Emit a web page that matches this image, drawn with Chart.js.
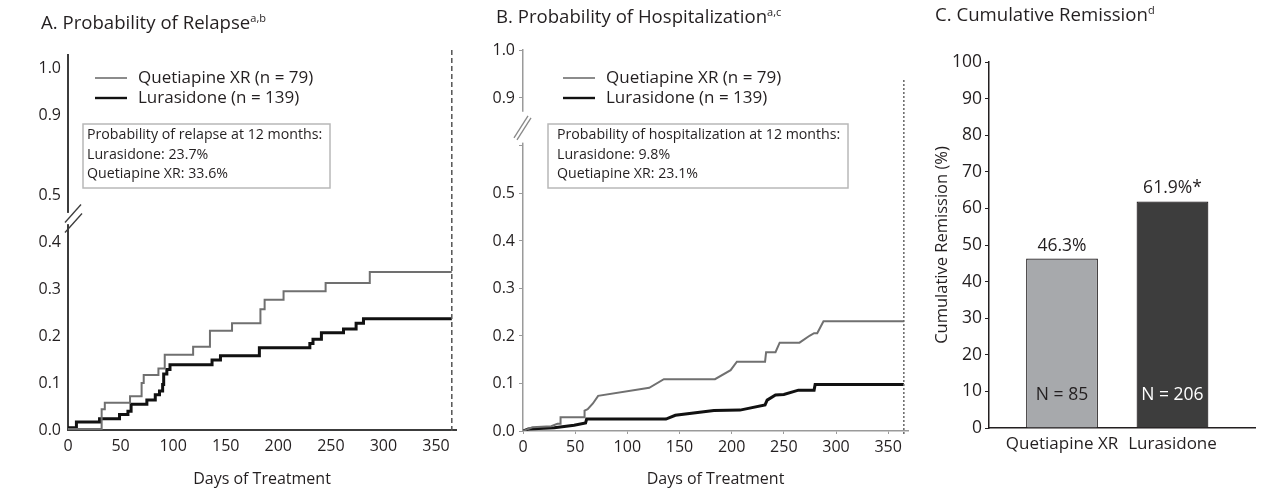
<!DOCTYPE html>
<html>
<head>
<meta charset="utf-8">
<title>Relapse, hospitalization and remission</title>
<script src="https://cdn.jsdelivr.net/npm/chart.js@4.4.1/dist/chart.umd.min.js"></script>
<style>
  body { margin: 0; background: #fff; width: 1275px; height: 496px; overflow: hidden; font-family: "Open Sans", sans-serif; color: #231f20; }
  .panel { position: absolute; top: 0; height: 496px; }
  .panel canvas { position: absolute; left: 0; top: 0; }
  .ttl { position: absolute; font-size: 18.6px; line-height: 1; white-space: nowrap; }
  .ttl sup { font-size: 11px; vertical-align: 7px; }
</style>
</head>
<body>
<div class="panel" style="left:0;width:470px">
  <canvas id="relapseChart" width="470" height="496"></canvas>
  <div class="ttl" style="left:41px;top:12px">A. Probability of Relapse<sup>a,b</sup></div>
</div>
<div class="panel" style="left:470px;width:440px">
  <canvas id="hospChart" width="440" height="496"></canvas>
  <div class="ttl" style="left:26px;top:6px">B. Probability of Hospitalization<sup>a,c</sup></div>
</div>
<div class="panel" style="left:910px;width:365px">
  <canvas id="remissionChart" width="365" height="496"></canvas>
  <div class="ttl" style="left:25px;top:4px">C. Cumulative Remission<sup>d</sup></div>
</div>

<script>
// A. probability of relapse (Kaplan-Meier steps): day of event, cumulative probability after it
const relapseQuetDays = [0, 32, 35, 59, 70, 72, 86, 92, 119, 135, 156, 183, 187, 205, 245, 287, 365];
const relapseQuetProb = [0.002, 0.044, 0.058, 0.072, 0.100, 0.117, 0.131, 0.160, 0.177, 0.211, 0.227, 0.257, 0.277, 0.295, 0.313, 0.336, 0.336];
const relapseLuraDays = [0, 8, 30, 49, 57, 60, 75, 83, 87, 90, 91, 94, 97, 137, 145, 182, 230, 233, 241, 262, 274, 281, 365];
const relapseLuraProb = [0.005, 0.017, 0.024, 0.033, 0.040, 0.055, 0.064, 0.075, 0.083, 0.097, 0.119, 0.129, 0.139, 0.149, 0.158, 0.175, 0.184, 0.193, 0.207, 0.215, 0.227, 0.237, 0.237];

// B. probability of hospitalization
const hospQuetDays = [0, 9, 27, 33, 36, 36, 59, 59, 62, 67, 72, 121, 135, 184, 199, 205, 232, 233, 242, 246, 265, 275, 279, 282, 288, 365];
const hospQuetProb = [0, 0.008, 0.010, 0.015, 0.015, 0.029, 0.029, 0.043, 0.046, 0.058, 0.074, 0.091, 0.109, 0.109, 0.128, 0.146, 0.146, 0.166, 0.166, 0.186, 0.186, 0.201, 0.206, 0.206, 0.231, 0.231];
const hospLuraDays = [0, 5, 30, 49, 60, 61, 137, 146, 183, 208, 232, 234, 242, 250, 264, 279, 280, 365];
const hospLuraProb = [0, 0.004, 0.007, 0.012, 0.017, 0.025, 0.025, 0.033, 0.043, 0.044, 0.055, 0.065, 0.076, 0.077, 0.086, 0.086, 0.098, 0.098];

const seriesNames = ['Quetiapine XR (n = 79)', 'Lurasidone (n = 139)'];
const dayTicks = [0, 50, 100, 150, 200, 250, 300, 350];
const relapseTicks = [0, 0.1, 0.2, 0.3, 0.4, 0.5, 0.9, 1.0];
const relapseTickLabels = ['0.0', '0.1', '0.2', '0.3', '0.4', '0.5', '0.9', '1.0'];
const hospTicks = [0, 0.1, 0.2, 0.3, 0.4, 0.5, 0.6, 0.9, 1.0];
const hospTickLabels = ['0.0', '0.1', '0.2', '0.3', '0.4', '0.5', '', '0.9', '1.0'];
const relapseBoxText = ['Probability of relapse at 12 months:', 'Lurasidone: 23.7%', 'Quetiapine XR: 33.6%'];
const hospBoxText = ['Probability of hospitalization at 12 months:', 'Lurasidone: 9.8%', 'Quetiapine XR: 23.1%'];

// C. cumulative remission
const remissionGroups = ['Quetiapine XR', 'Lurasidone'];
const remissionPct = [46.3, 61.9];
const remissionMarks = ['', '*'];
const remissionN = [85, 206];

const textColor = '#231f20';
const fontFamily = '"Open Sans", sans-serif';
const quetColor = '#707070';
const luraColor = '#111111';

Chart.defaults.font.family = fontFamily;
Chart.defaults.color = textColor;

// y axis with a break: values above the break are pulled down
function breakMap(lowEdge, highEdge, highStart) {
    return v => v <= lowEdge ? v : highStart + (v - highEdge);
}

function toPoints(days, probs, map) {
    return days.map((d, i) => ({ x: d, y: map(probs[i]) }));
}

const kmDecor = {
    id: 'kmDecor',
    afterDraw(chart, args, o) {
        const { ctx, scales: { x, y } } = chart;
        const axisX = x.left;
        const y0 = y.getPixelForValue(0);
        ctx.save();

        // end of 12 months
        const fx = x.getPixelForValue(o.followUp);
        ctx.strokeStyle = o.dashColor;
        ctx.lineWidth = 1.5;
        ctx.setLineDash(o.dash);
        ctx.beginPath();
        ctx.moveTo(fx, o.dashTop);
        ctx.lineTo(fx, y0 + 3);
        ctx.stroke();
        ctx.setLineDash([]);

        // break marks on the y axis
        const gTop = y.getPixelForValue(o.gap[1]);
        const gBot = y.getPixelForValue(o.gap[0]);
        ctx.fillStyle = '#fff';
        ctx.fillRect(axisX - 3, gTop, 6, gBot - gTop);
        ctx.strokeStyle = o.axisColor;
        ctx.lineWidth = 1.3;
        const cy = y.getPixelForValue(o.slashAt);
        o.slashes.forEach(s => {
            ctx.beginPath();
            ctx.moveTo(axisX + s[0], cy + s[1]);
            ctx.lineTo(axisX + s[2], cy + s[3]);
            ctx.stroke();
        });

        // legend
        ctx.font = '17px ' + fontFamily;
        ctx.textBaseline = 'middle';
        chart.data.datasets.forEach((ds, i) => {
            const ly = o.legendY + i * 20;
            ctx.strokeStyle = ds.borderColor;
            ctx.lineWidth = ds.borderWidth * 0.8;
            ctx.beginPath();
            ctx.moveTo(o.legendX, ly);
            ctx.lineTo(o.legendX + 32, ly);
            ctx.stroke();
            ctx.fillStyle = textColor;
            ctx.fillText(ds.label, o.legendX + 43, ly);
        });

        // 12 month box
        const [bx, by, bw, bh] = o.box;
        ctx.fillStyle = '#fff';
        ctx.fillRect(bx, by, bw, bh);
        ctx.strokeStyle = '#b8b8b8';
        ctx.lineWidth = 1.5;
        ctx.strokeRect(bx, by, bw, bh);
        ctx.fillStyle = textColor;
        ctx.font = '14.2px ' + fontFamily;
        o.boxText.forEach((t, i) => ctx.fillText(t, bx + o.textPad, by + 11 + i * 19.5));
        ctx.restore();
    }
};

// ---------- A ----------
const relapseMap = breakMap(0.5, 0.9, 0.670);
new Chart(document.getElementById('relapseChart'), {
    type: 'line',
    data: {
        datasets: [
            { label: seriesNames[0], data: toPoints(relapseQuetDays, relapseQuetProb, relapseMap), borderColor: quetColor, borderWidth: 2, stepped: true, pointRadius: 0 },
            { label: seriesNames[1], data: toPoints(relapseLuraDays, relapseLuraProb, relapseMap), borderColor: luraColor, borderWidth: 3, stepped: true, pointRadius: 0 }
        ]
    },
    options: {
        responsive: false,
        animation: false,
        layout: { padding: { left: 0, right: 14, top: 55, bottom: 0 } },
        plugins: {
            legend: { display: false },
            tooltip: { enabled: false },
            kmDecor: {
                followUp: 365, dashTop: 50, dash: [5, 3], dashColor: '#555',
                gap: [0.438, 0.462], slashAt: 0.45, axisColor: '#3c3c3c',
                slashes: [[-3, 4, 13, -14], [-3, 14, 14, -5]],
                legendX: 95, legendY: 78,
                box: [83, 124, 247, 64], textPad: 4, boxText: relapseBoxText
            }
        },
        scales: {
            x: {
                type: 'linear', min: 0, max: 369,
                afterBuildTicks: axis => { axis.ticks = dayTicks.map(v => ({ value: v })); },
                afterFit: axis => { axis.height = 66; },
                grid: { display: false, drawTicks: false },
                border: { color: '#3c3c3c', width: 2 },
                ticks: { padding: 7, font: { size: 16 }, color: textColor },
                title: { display: true, text: 'Days of Treatment', font: { size: 16 }, color: textColor, padding: { top: 0, bottom: 7 } }
            },
            y: {
                min: 0, max: 0.798,
                afterBuildTicks: axis => { axis.ticks = relapseTicks.map(v => ({ value: relapseMap(v) })); },
                afterFit: axis => { axis.width = 68; },
                grid: { display: false, drawTicks: false },
                border: { color: '#3c3c3c', width: 2 },
                ticks: { padding: 7, font: { size: 16 }, color: textColor, callback: (v, i) => relapseTickLabels[i] }
            }
        }
    },
    plugins: [kmDecor]
});

// ---------- B ----------
const hospMap = breakMap(0.6, 0.9, 0.701);
new Chart(document.getElementById('hospChart'), {
    type: 'line',
    data: {
        datasets: [
            { label: seriesNames[0], data: toPoints(hospQuetDays, hospQuetProb, hospMap), borderColor: quetColor, borderWidth: 2, pointRadius: 0 },
            { label: seriesNames[1], data: toPoints(hospLuraDays, hospLuraProb, hospMap), borderColor: luraColor, borderWidth: 3, pointRadius: 0 }
        ]
    },
    options: {
        responsive: false,
        animation: false,
        layout: { padding: { left: 0, right: 2, top: 50, bottom: 0 } },
        plugins: {
            legend: { display: false },
            tooltip: { enabled: false },
            kmDecor: {
                followUp: 365, dashTop: 80, dash: [2, 2], dashColor: '#666',
                gap: [0.607, 0.672], slashAt: 0.64, axisColor: '#888',
                slashes: [[-9, 11, 5, -11], [-6, 13, 8, -9]],
                legendX: 93, legendY: 78,
                box: [78, 124, 300, 64], textPad: 9, boxText: hospBoxText
            }
        },
        scales: {
            x: {
                type: 'linear', min: 0, max: 369,
                afterBuildTicks: axis => { axis.ticks = dayTicks.map(v => ({ value: v })); },
                afterFit: axis => { axis.height = 65; },
                grid: { display: true, drawOnChartArea: false, drawTicks: true, tickLength: 3, tickColor: '#9a9a9a' },
                border: { color: '#9a9a9a', width: 1.5 },
                ticks: { padding: 4, font: { size: 16 }, color: textColor },
                title: { display: true, text: 'Days of Treatment', font: { size: 16 }, color: textColor, padding: { top: 0, bottom: 7 } }
            },
            y: {
                min: 0, max: 0.802,
                afterBuildTicks: axis => { axis.ticks = hospTicks.map(v => ({ value: hospMap(v) })); },
                afterFit: axis => { axis.width = 53; },
                grid: { display: true, drawOnChartArea: false, drawTicks: true, tickLength: 4, tickColor: '#9a9a9a' },
                border: { color: '#9a9a9a', width: 1.5 },
                ticks: { padding: 4, font: { size: 16 }, color: textColor, callback: (v, i) => hospTickLabels[i] }
            }
        }
    },
    plugins: [kmDecor]
});

// ---------- C ----------
const barLabels = {
    id: 'barLabels',
    afterDatasetsDraw(chart) {
        const { ctx, scales: { y } } = chart;
        const bars = chart.getDatasetMeta(0).data;
        ctx.save();
        ctx.font = '17.5px ' + fontFamily;
        ctx.textAlign = 'center';
        ctx.textBaseline = 'middle';
        bars.forEach((bar, i) => {
            ctx.fillStyle = textColor;
            ctx.fillText(remissionPct[i].toFixed(1) + '%' + remissionMarks[i], bar.x, bar.y - 13);
            ctx.fillStyle = i === 1 ? '#fff' : textColor;
            ctx.fillText('N = ' + remissionN[i], bar.x, y.getPixelForValue(0) - 33);
        });
        ctx.restore();
    }
};

new Chart(document.getElementById('remissionChart'), {
    type: 'bar',
    data: {
        datasets: [{
            data: remissionPct.map((v, i) => ({ x: i + 1, y: v })),
            backgroundColor: ['#a7a9ac', '#3d3d3d'],
            borderColor: '#231f20',
            borderWidth: 1.2,
            barPercentage: 0.65,
            categoryPercentage: 1
        }]
    },
    options: {
        responsive: false,
        animation: false,
        layout: { padding: { left: 0, right: 20, top: 62, bottom: 0 } },
        plugins: { legend: { display: false }, tooltip: { enabled: false } },
        scales: {
            x: {
                type: 'linear', min: 0.339, max: 2.747, offset: false,
                afterBuildTicks: axis => { axis.ticks = remissionGroups.map((g, i) => ({ value: i + 1 })); },
                afterFit: axis => { axis.height = 68; },
                grid: { display: false, drawTicks: false },
                border: { color: '#231f20', width: 1.5 },
                ticks: { padding: 6, font: { size: 17 }, color: textColor, callback: (v, i) => remissionGroups[i] }
            },
            y: {
                min: 0, max: 100,
                ticks: { stepSize: 10, padding: 3, font: { size: 17.5 }, color: textColor },
                afterFit: axis => { axis.width = 79; },
                grid: { display: true, drawOnChartArea: false, drawTicks: true, tickLength: 4, tickColor: '#231f20' },
                border: { color: '#231f20', width: 1.5 },
                title: { display: true, text: 'Cumulative Remission (%)', font: { size: 16.5 }, color: textColor, padding: { top: 22, bottom: 0 } }
            }
        }
    },
    plugins: [barLabels]
});
</script>
</body>
</html>
